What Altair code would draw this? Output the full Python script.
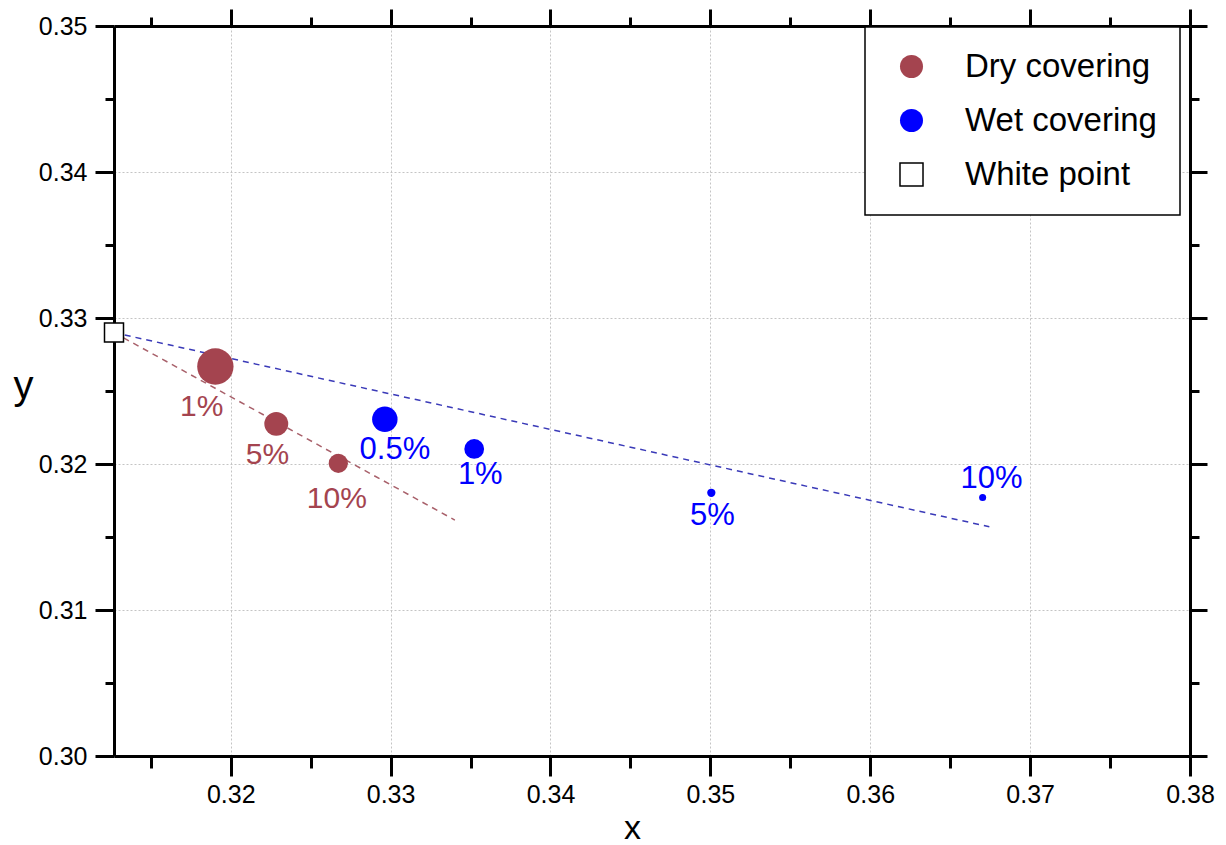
import altair as alt
import pandas as pd

FONT = "Liberation Sans"
DRY_COLOR = "#A4444F"
WET_COLOR = "#0000FF"
DRY_LINE_COLOR = "#A8606A"
WET_LINE_COLOR = "#3A3AB8"

# ---- data ----
SERIES = ["Dry covering", "Wet covering", "White point"]

WHITE_X = [0.3127]
WHITE_Y = [0.3290]

DRY_LABELS = ["1%", "5%", "10%"]
DRY_X = [0.31904, 0.32285, 0.32673]
DRY_Y = [0.32668, 0.32275, 0.32005]
DRY_LABEL_X = [0.31818, 0.32230, 0.32664]
DRY_LABEL_Y = [0.32393, 0.32064, 0.31758]

WET_LABELS = ["0.5%", "1%", "5%", "10%"]
WET_X = [0.32964, 0.33523, 0.35006, 0.36703]
WET_Y = [0.32307, 0.32103, 0.31803, 0.31771]
WET_LABEL_X = [0.33027, 0.33561, 0.35013, 0.36758]
WET_LABEL_Y = [0.32098, 0.31923, 0.31641, 0.31895]

# dashed trend lines: from white point to end point
DRY_LINE_X = [0.3127, 0.33402]
DRY_LINE_Y = [0.3290, 0.31616]
WET_LINE_X = [0.3127, 0.36745]
WET_LINE_Y = [0.3290, 0.31570]

X_MAJOR = [0.32, 0.33, 0.34, 0.35, 0.36, 0.37, 0.38]
X_MINOR = [0.315, 0.325, 0.335, 0.345, 0.355, 0.365, 0.375]
Y_MAJOR = [0.30, 0.31, 0.32, 0.33, 0.34, 0.35]
Y_MINOR = [0.305, 0.315, 0.325, 0.335, 0.345]

# marker areas (style)
DRY_AREA = [1320, 573, 370]
WET_AREA = [647, 391, 68, 50]
WHITE_AREA = [361]

# ---- tables ----
points = pd.DataFrame({
    "series": [SERIES[0]] * len(DRY_X) + [SERIES[1]] * len(WET_X) + [SERIES[2]],
    "x": DRY_X + WET_X + WHITE_X,
    "y": DRY_Y + WET_Y + WHITE_Y,
    "area": DRY_AREA + WET_AREA + WHITE_AREA,
})
dry_lbl = pd.DataFrame({"x": DRY_LABEL_X, "y": DRY_LABEL_Y, "t": DRY_LABELS})
wet_lbl = pd.DataFrame({"x": WET_LABEL_X, "y": WET_LABEL_Y, "t": WET_LABELS})
dry_line = pd.DataFrame({"x": DRY_LINE_X, "y": DRY_LINE_Y})
wet_line = pd.DataFrame({"x": WET_LINE_X, "y": WET_LINE_Y})

xs = alt.Scale(domain=[0.3127, 0.38], nice=False, zero=False)
ys = alt.Scale(domain=[0.30, 0.35], nice=False, zero=False)

common = dict(domainColor="black", domainWidth=3, tickColor="black", tickWidth=3,
              labelFont=FONT, labelFontSize=25, labelColor="black", labelFlush=False,
              labelOverlap=False)
grid = dict(grid=True, gridColor="#c4c4c4", gridDash=[2, 2], gridWidth=1)

ax_bottom = alt.Axis(orient="bottom", values=X_MAJOR, format=".2f", tickSize=20, labelPadding=6,
                     title="x", titleFont=FONT, titleFontSize=34, titleFontWeight="normal",
                     titleColor="black", titleX=518, titleY=82, titleAlign="center",
                     titleBaseline="alphabetic", **grid, **common)
ax_bottom_minor = alt.Axis(orient="bottom", values=X_MINOR, tickSize=12, labels=False,
                           domain=False, grid=False, title=None, tickColor="black", tickWidth=3)
ax_top = alt.Axis(orient="top", values=X_MAJOR, tickSize=17, labels=False, grid=False,
                  title=None, domainColor="black", domainWidth=3, tickColor="black", tickWidth=3)
ax_top_minor = alt.Axis(orient="top", values=X_MINOR, tickSize=9, labels=False, domain=False,
                        grid=False, title=None, tickColor="black", tickWidth=3)

ax_left = alt.Axis(orient="left", values=Y_MAJOR, format=".2f", tickSize=19, labelPadding=8,
                   title="y", titleFont=FONT, titleFontSize=40, titleFontWeight="normal",
                   titleColor="black", titleAngle=0, titleX=-91, titleY=372, titleAlign="center",
                   titleBaseline="alphabetic", **grid, **common)
ax_left_minor = alt.Axis(orient="left", values=Y_MINOR, tickSize=9, labels=False, domain=False,
                         grid=False, title=None, tickColor="black", tickWidth=3)
ax_right = alt.Axis(orient="right", values=Y_MAJOR, tickSize=17, labels=False, grid=False,
                    title=None, domainColor="black", domainWidth=3, tickColor="black", tickWidth=3)
ax_right_minor = alt.Axis(orient="right", values=Y_MINOR, tickSize=9, labels=False, domain=False,
                          grid=False, title=None, tickColor="black", tickWidth=3)

l_dry = alt.Chart(dry_line).mark_line(color=DRY_LINE_COLOR, strokeDash=[6, 5], strokeWidth=1.5).encode(
    x=alt.X("x:Q", scale=xs, axis=ax_bottom),
    y=alt.Y("y:Q", scale=ys, axis=ax_left),
)
l_wet = alt.Chart(wet_line).mark_line(color=WET_LINE_COLOR, strokeDash=[6, 5], strokeWidth=1.5).encode(
    x=alt.X("x:Q", scale=xs, axis=ax_top),
    y=alt.Y("y:Q", scale=ys, axis=ax_right),
)
t_dry = alt.Chart(dry_lbl).mark_text(font=FONT, fontSize=30, color=DRY_COLOR, align="center",
                                     baseline="middle").encode(
    x=alt.X("x:Q", scale=xs, axis=ax_bottom_minor),
    y=alt.Y("y:Q", scale=ys, axis=ax_left_minor),
    text="t:N",
)
t_wet = alt.Chart(wet_lbl).mark_text(font=FONT, fontSize=31, color=WET_COLOR, align="center",
                                     baseline="middle").encode(
    x=alt.X("x:Q", scale=xs, axis=ax_top_minor),
    y=alt.Y("y:Q", scale=ys, axis=ax_right_minor),
    text="t:N",
)
pts = alt.Chart(points).mark_point(filled=True, opacity=1, strokeWidth=1.5).encode(
    x=alt.X("x:Q", scale=xs, axis=None),
    y=alt.Y("y:Q", scale=ys, axis=None),
    fill=alt.Fill("series:N", title=None,
                  scale=alt.Scale(domain=SERIES, range=[DRY_COLOR, WET_COLOR, "#FFFFFF"])),
    stroke=alt.Stroke("series:N", title=None,
                      scale=alt.Scale(domain=SERIES, range=["transparent", "transparent", "#000000"])),
    shape=alt.Shape("series:N", title=None,
                    scale=alt.Scale(domain=SERIES, range=["circle", "circle", "square"])),
    size=alt.Size("area:Q", scale=None, legend=None),
)

chart = alt.layer(l_dry, l_wet, t_dry, t_wet, pts).resolve_axis(
    x="independent", y="independent"
).properties(
    width=1076, height=730,
    autosize=alt.AutoSizeParams(type="none"),
    padding={"left": 106, "top": 18, "right": 26, "bottom": 84},
    background="white",
).configure_view(stroke=None).configure_legend(
    orient="none", legendX=751, legendY=1, padding=23,
    strokeColor="black", strokeWidth=1.5, fillColor="white",
    symbolSize=530, symbolStrokeWidth=1.5, symbolOffset=7,
    labelFontSize=33, labelFont=FONT,
    labelColor="black", labelOffset=37, rowPadding=20, labelLimit=400,
)

chart.save("out.html", embed_options={"renderer": "svg", "actions": False})
